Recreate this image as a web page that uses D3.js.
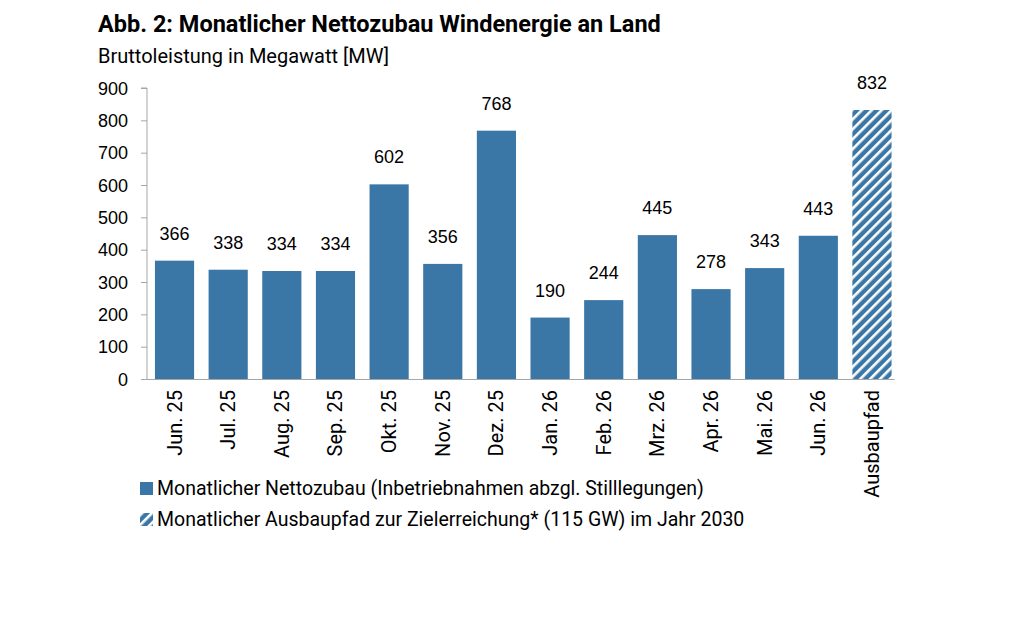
<!DOCTYPE html>
<html>
<head>
<meta charset="utf-8">
<script src="https://cdn.jsdelivr.net/npm/d3@7"></script>
<style>
	body { margin: 0; background: #fff; }
	svg { display: block; }
	.title { font-family: Roboto, sans-serif; font-weight: 700; font-size: 23.5px; fill: #000; }
	.subtitle { font-family: Roboto, sans-serif; font-size: 20px; fill: #000; }
	.y-axis text, .value { font-family: "Liberation Sans", Arial, sans-serif; font-size: 18px; fill: #000; }
	.cat { font-family: Roboto, sans-serif; font-size: 20px; fill: #000; }
	.legend text { font-family: Roboto, sans-serif; font-size: 19.5px; fill: #000; }
</style>
</head>
<body>
<svg id="chart" width="1024" height="624"></svg>
<script>
// Data
const categories = ["Jun. 25", "Jul. 25", "Aug. 25", "Sep. 25", "Okt. 25", "Nov. 25", "Dez. 25",
	"Jan. 26", "Feb. 26", "Mrz. 26", "Apr. 26", "Mai. 26", "Jun. 26", "Ausbaupfad"]
const values = [366, 338, 334, 334, 602, 356, 768, 190, 244, 445, 278, 343, 443, 832]
const yTicks = [0, 100, 200, 300, 400, 500, 600, 700, 800, 900]
const legendLabels = [
	"Monatlicher Nettozubau (Inbetriebnahmen abzgl. Stilllegungen)",
	"Monatlicher Ausbaupfad zur Zielerreichung* (115 GW) im Jahr 2030"
]

const blue = "#3a77a6"
const svg = d3.select("#chart")

// hatch pattern for the target bar
const defs = svg.append("defs")
const pat = defs.append("pattern")
	.attr("id", "hatch")
	.attr("patternUnits", "userSpaceOnUse")
	.attr("width", 7).attr("height", 7)
	.attr("patternTransform", "rotate(45)")
pat.append("rect").attr("width", 7).attr("height", 7).attr("fill", blue)
pat.append("rect").attr("x", 0).attr("width", 2.6).attr("height", 7).attr("fill", "#fff")

// Title
svg.append("text").attr("class", "title").attr("x", 98).attr("y", 32)
	.text("Abb. 2: Monatlicher Nettozubau Windenergie an Land")
svg.append("text").attr("class", "subtitle").attr("x", 98).attr("y", 63)
	.text("Bruttoleistung in Megawatt [MW]")

// Scales
let x = d3.scaleBand()
	.domain(categories)
	.range([147.7, 898.8])
	.paddingInner(0.27)
	.paddingOuter(0.135)

let y = d3.scaleLinear()
	.domain([0, 900])
	.range([379, 88])

// Y-Axis
let yAxis = svg.append("g")
	.attr("class", "y-axis")
	.attr("transform", "translate(147,0)")
	.call(d3.axisLeft(y).tickValues(yTicks).tickSize(6).tickPadding(13).tickFormat(d3.format("d")))
yAxis.select(".domain").attr("stroke", "#a6a6a6").attr("d", `M-6,${y(900)}H0V${y(0)}`)
yAxis.selectAll(".tick line").attr("stroke", "#a6a6a6")
yAxis.selectAll("text").attr("dy", "0.35em")

// Bars
svg.append("g").selectAll("rect")
	.data(values)
	.join("rect")
	.attr("x", (d, i) => x(categories[i]))
	.attr("width", x.bandwidth())
	.attr("y", d => y(d))
	.attr("height", d => y(0) - y(d))
	.attr("fill", (d, i) => i === categories.length - 1 ? "url(#hatch)" : blue)

// X baseline
svg.append("line")
	.attr("x1", 147).attr("x2", x(categories[categories.length - 1]) + x.bandwidth() + 3)
	.attr("y1", y(0) + 0.5).attr("y2", y(0) + 0.5)
	.attr("stroke", "#a6a6a6")

// Value labels
svg.append("g").selectAll("text")
	.data(values)
	.join("text")
	.attr("class", "value")
	.attr("text-anchor", "middle")
	.attr("x", (d, i) => x(categories[i]) + x.bandwidth() / 2)
	.attr("y", d => y(d) - 21)
	.text(d => d)

// Category labels (rotated)
svg.append("g").selectAll("text")
	.data(categories)
	.join("text")
	.attr("class", "cat")
	.attr("text-anchor", "end")
	.attr("transform", d => `translate(${x(d) + x.bandwidth() / 2 + 7}, ${y(0) + 11}) rotate(-90)`)
	.text(d => d)

// Legend
let legend = svg.append("g").attr("class", "legend")
legendLabels.forEach((label, i) => {
	let ly = 482 + i * 31
	legend.append("rect")
		.attr("x", 140).attr("y", ly).attr("width", 13).attr("height", 13)
		.attr("fill", i === 0 ? blue : "url(#hatch)")
	legend.append("text")
		.attr("x", 157).attr("y", ly + 13)
		.text(label)
})
</script>
</body>
</html>
